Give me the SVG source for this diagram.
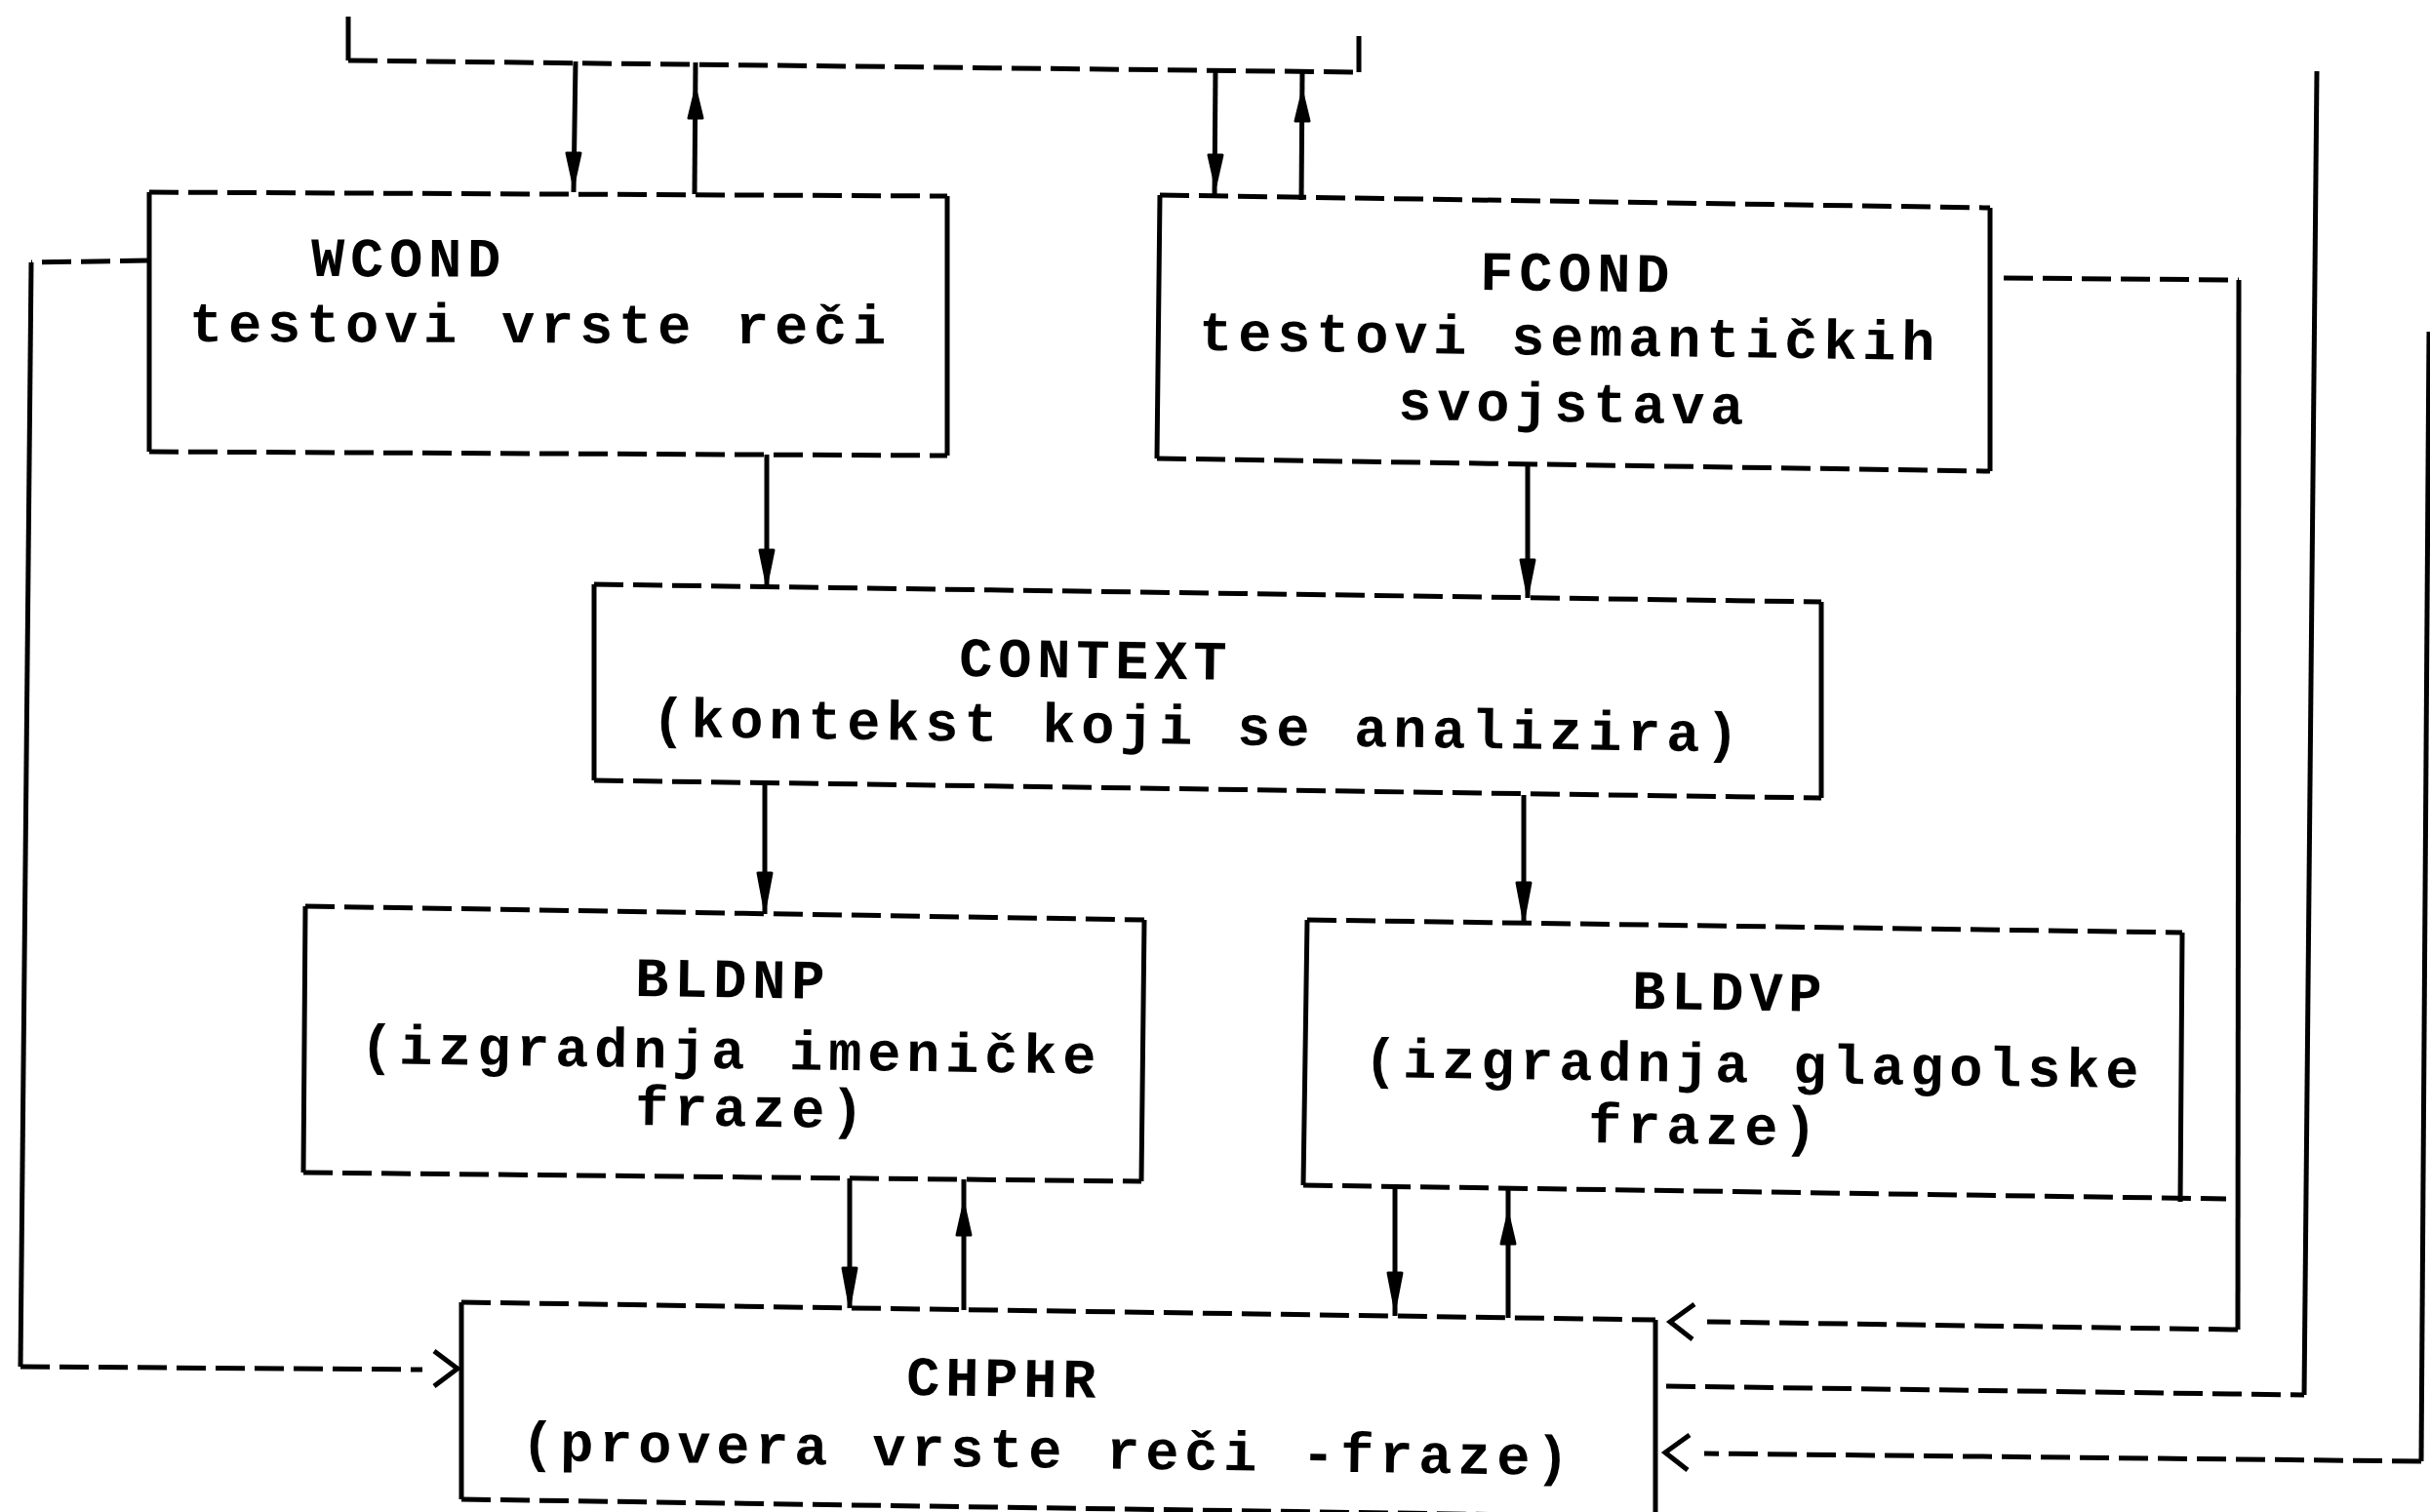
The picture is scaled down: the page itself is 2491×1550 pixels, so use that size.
<svg xmlns="http://www.w3.org/2000/svg" width="2491" height="1550" viewBox="0 0 2491 1550">
<style>
  .bg { fill: #ffffff; }
  .h { fill: none; stroke: #000; stroke-width: 5; stroke-dasharray: 30 10; }
  .v { fill: none; stroke: #000; stroke-width: 5; }
  .ch { fill: none; stroke: #000; stroke-width: 5; stroke-linejoin: miter; }
  .ah { fill: #000; stroke: #000; stroke-width: 3; stroke-linejoin: round; }
  .t { font-family: "Liberation Mono", "DejaVu Sans Mono", monospace; font-size: 57px; font-weight: bold; letter-spacing: 5.8px; fill: #000; }
</style>
<rect class="bg" x="0" y="0" width="2491" height="1550"/>

<g id="WCOND">
  <path class="h" d="M153,197 L971,201 M153,463 L971,467"/>
  <path class="v" d="M153,197 L153,463 M971,201 L971,467"/>
  <text class="t" x="319" y="283" transform="rotate(0.2 319 283)">WCOND</text>
  <text class="t" x="194" y="350" transform="rotate(0.2 194 350)">testovi vrste reči</text>
</g>

<g id="FCOND">
  <path class="h" d="M1189,200 L2040,213 M1186,470 L2040,483"/>
  <path class="v" d="M1189,200 L1186,470 M2040,213 L2040,483"/>
  <text class="t" x="1517" y="297" transform="rotate(0.75 1517 297)">FCOND</text>
  <text class="t" x="1229" y="359" transform="rotate(0.75 1229 359)">testovi semantičkih</text>
  <text class="t" x="1433" y="430" transform="rotate(0.75 1433 430)">svojstava</text>
</g>

<g id="CONTEXT">
  <path class="h" d="M609,599 L1867,617 M609,800 L1867,818"/>
  <path class="v" d="M609,599 L609,800 M1867,617 L1867,818"/>
  <text class="t" x="983" y="693" transform="rotate(0.8 983 693)">CONTEXT</text>
  <text class="t" x="668" y="755" transform="rotate(0.8 668 755)">(kontekst koji se analizira)</text>
</g>

<g id="BLDNP">
  <path class="h" d="M313,929 L1173,943 M311,1202 L1170,1211"/>
  <path class="v" d="M313,929 L311,1202 M1173,943 L1170,1211"/>
  <text class="t" x="651" y="1021" transform="rotate(0.8 651 1021)">BLDNP</text>
  <text class="t" x="369" y="1090" transform="rotate(0.8 369 1090)">(izgradnja imeničke</text>
  <text class="t" x="651" y="1153" transform="rotate(0.8 651 1153)">fraze)</text>
</g>

<g id="BLDVP">
  <path class="h" d="M1340,943 L2237,956 M1336,1215 L2282,1229"/>
  <path class="v" d="M1340,943 L1336,1215 M2237,956 L2235,1232"/>
  <text class="t" x="1673" y="1034" transform="rotate(0.8 1673 1034)">BLDVP</text>
  <text class="t" x="1398" y="1104" transform="rotate(0.8 1398 1104)">(izgradnja glagolske</text>
  <text class="t" x="1628" y="1171" transform="rotate(0.8 1628 1171)">fraze)</text>
</g>

<g id="CHPHR">
  <path class="h" d="M473,1335 L1697,1353 M473,1537 L1697,1555"/>
  <path class="v" d="M473,1335 L473,1537 M1697,1353 L1697,1560"/>
  <text class="t" x="929" y="1430" transform="rotate(0.8 929 1430)">CHPHR</text>
  <text class="t" x="534" y="1497" transform="rotate(0.8 534 1497)">(provera vrste reči -fraze)</text>
</g>

<g id="connectors">
  <!-- top bus -->
  <path class="v" d="M357,17 L357,62 M1393,74 L1393,37"/>
  <path class="h" d="M357,62 L1393,74"/>
  <!-- bus to WCOND / back -->
  <path class="v" d="M590,63 L588,197"/>
  <polygon class="ah" points="581,157 595,157 588,189"/>
  <path class="v" d="M713,64 L712,199"/>
  <polygon class="ah" points="706,121 720,121 713,92"/>
  <!-- bus to FCOND / back -->
  <path class="v" d="M1246,70 L1245,203"/>
  <polygon class="ah" points="1239,159 1253,159 1246,190"/>
  <path class="v" d="M1335,72 L1334,205"/>
  <polygon class="ah" points="1328,124 1342,124 1335,95"/>
  <!-- WCOND -> CONTEXT -->
  <path class="v" d="M786,466 L786,602"/>
  <polygon class="ah" points="779,564 793,564 786,598"/>
  <!-- FCOND -> CONTEXT -->
  <path class="v" d="M1566,476 L1566,613"/>
  <polygon class="ah" points="1559,574 1573,574 1566,609"/>
  <!-- CONTEXT -> BLDNP -->
  <path class="v" d="M784,802 L784,937"/>
  <polygon class="ah" points="777,895 791,895 784,932"/>
  <!-- CONTEXT -> BLDVP -->
  <path class="v" d="M1562,815 L1562,946"/>
  <polygon class="ah" points="1555,905 1569,905 1562,942"/>
  <!-- BLDNP <-> CHPHR -->
  <path class="v" d="M871,1208 L871,1341"/>
  <polygon class="ah" points="864,1300 878,1300 871,1338"/>
  <path class="v" d="M988,1343 L988,1209"/>
  <polygon class="ah" points="981,1266 995,1266 988,1235"/>
  <!-- BLDVP <-> CHPHR -->
  <path class="v" d="M1430,1216 L1430,1349"/>
  <polygon class="ah" points="1423,1305 1437,1305 1430,1341"/>
  <path class="v" d="M1546,1351 L1546,1218"/>
  <polygon class="ah" points="1539,1275 1553,1275 1546,1245"/>
  <!-- WCOND feedback to CHPHR (left) -->
  <path class="h" d="M153,267 L32,269"/>
  <path class="v" d="M32,269 L21,1401"/>
  <path class="h" d="M21,1401 L433,1404"/>
  <polyline class="ch" points="445,1385 469,1403 445,1421"/>
  <!-- FCOND feedback to CHPHR (right) -->
  <path class="h" d="M2054,285 L2295,287"/>
  <path class="v" d="M2295,287 L2294,1363"/>
  <path class="h" d="M2294,1363 L1750,1355"/>
  <polyline class="ch" points="1737,1337 1712,1355 1735,1373"/>
  <!-- CHPHR out to top -->
  <path class="h" d="M1708,1421 L2362,1430"/>
  <path class="v" d="M2362,1430 L2375,73"/>
  <!-- rightmost loop into CHPHR -->
  <path class="v" d="M2490,340 L2482,1498"/>
  <path class="h" d="M2482,1498 L1747,1490"/>
  <polyline class="ch" points="1732,1471 1707,1489 1730,1507"/>
</g>
</svg>
